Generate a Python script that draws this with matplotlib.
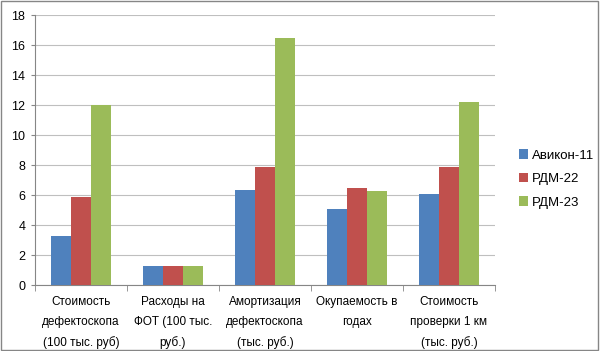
import numpy as np
from matplotlib import pyplot as plt

categories = [
    "Стоимость\nдефектоскопа\n(100 тыс. руб)",
    "Расходы на\nФОТ (100 тыс.\nруб.)",
    "Амортизация\nдефектоскопа\n(тыс. руб.)",
    "Окупаемость в\nгодах",
    "Стоимость\nпроверки 1 км\n(тыс. руб.)",
]
avikon11 = [3.3, 1.3, 6.35, 5.07, 6.1]
rdm22 = [5.85, 1.3, 7.9, 6.47, 7.9]
rdm23 = [12.0, 1.3, 16.45, 6.25, 12.22]

series = [("Авикон-11", avikon11, "#4F81BD"),
          ("РДМ-22", rdm22, "#C0504D"),
          ("РДМ-23", rdm23, "#9BBB59")]

plt.rcParams["font.family"] = ["Liberation Sans", "DejaVu Sans"]

fig = plt.figure(figsize=(6, 3.51), dpi=100)
ax = fig.add_axes([0.0583, 0.188, 0.7667, 0.769])

x = np.arange(len(categories))
w = 0.22
for i, (name, vals, col) in enumerate(series):
    ax.bar(x + (i - 1) * w, vals, w, color=col, label=name, zorder=3)

ax.set_xlim(-0.5, len(categories) - 0.5)
ax.set_ylim(0, 18)
ax.set_yticks(range(0, 19, 2))
ax.tick_params(axis="y", labelsize=9, length=3, color="#868686", pad=4)
ax.grid(axis="y", color="#bfbfbf", linewidth=0.8, zorder=0)

ax.set_xticks(x)
ax.set_xticklabels(categories, fontsize=8.5, linespacing=1.85)
ax.tick_params(axis="x", length=0, pad=8)
ax.set_xticks(np.arange(-0.5, len(categories), 1), minor=True)
ax.tick_params(axis="x", which="minor", length=4, color="#868686")

for s in ["top", "right"]:
    ax.spines[s].set_visible(False)
for s in ["left", "bottom"]:
    ax.spines[s].set_color("#868686")

fig.legend(loc="center left", bbox_to_anchor=(0.845, 0.49), frameon=False,
           fontsize=9.5, handlelength=0.7, handleheight=0.7, handletextpad=0.3,
           labelspacing=0.85)

fig.patches.append(plt.Rectangle((0.002, 0.003), 0.995, 0.993, transform=fig.transFigure,
                                 fill=False, edgecolor="#868686", linewidth=1))

fig.savefig("out.png", dpi=100)
